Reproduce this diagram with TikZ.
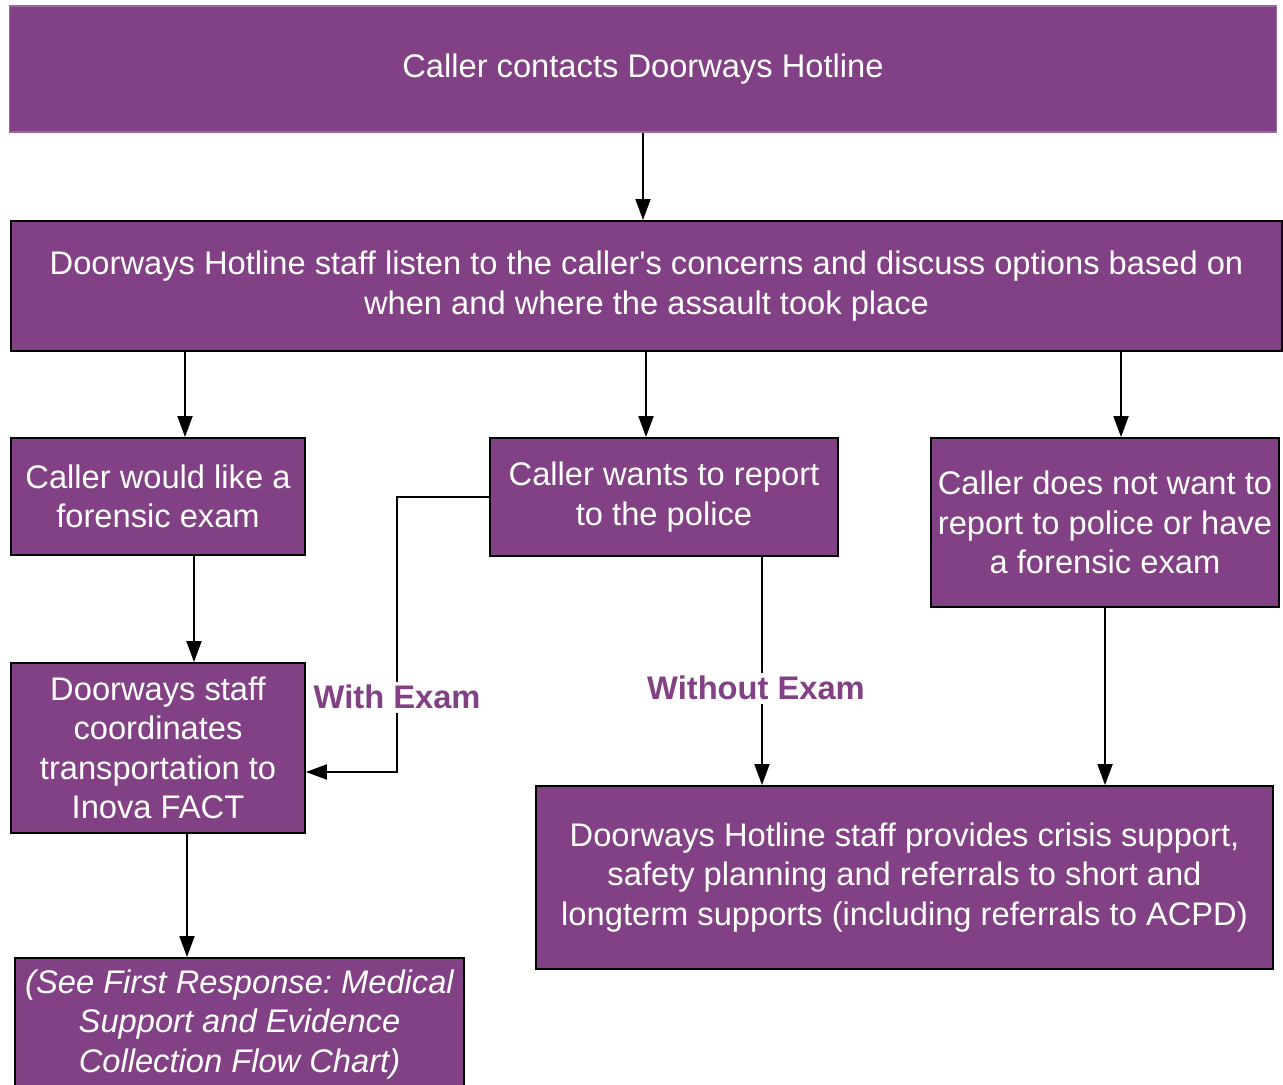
\documentclass[tikz,border=0pt]{standalone}
\usepackage{fontspec}
\setmainfont{Liberation Sans}
\usetikzlibrary{positioning,arrows.meta}
\definecolor{doorpurple}{RGB}{131,65,133}
\frenchspacing

\begin{document}
\begin{tikzpicture}[x=0.02cm, y=-0.02cm,
  box/.style={draw=black, line width=1.1pt, fill=doorpurple, text=white, align=center, inner sep=0pt, font=\fontsize{18.6}{22.4}\selectfont},
  arr/.style={-{Triangle[length=0.42cm, width=0.3cm]}, line width=1.1pt},
  lbl/.style={fill=white, text=doorpurple, inner sep=2pt, font=\fontsize{18.6}{22.4}\selectfont\bfseries}]

\useasboundingbox (0,0) rectangle (1283,1084);

% Caller contacts
\node[box, draw=doorpurple!80!white, line width=0.6pt, minimum width=25.36cm, minimum height=2.52cm] (contact) at (643,69) {Caller contacts Doorways Hotline};

% Hotline staff listen
\node[box, minimum width=25.42cm, minimum height=2.6cm] (listen) at (646.5,286) {Doorways Hotline staff listen to the caller\textquotesingle s concerns and discuss options based on\\when and where the assault took place};

% Three options
\node[box, minimum width=5.88cm, minimum height=2.34cm] (forensic) at (158,496.5) {Caller would like a\\forensic exam};
\node[box, minimum width=6.96cm, minimum height=2.36cm] (police) at (664,497) {Caller wants to report\\to the police};
\node[box, minimum width=6.96cm, minimum height=3.38cm] (noreport) at (1105,522.5) {Caller does not want to\\report to police or have\\a forensic exam};

% Transportation
\node[box, minimum width=5.88cm, minimum height=3.4cm] (transport) at (158,748) {Doorways staff\\coordinates\\transportation to\\Inova FACT};

% Crisis support
\node[box, minimum width=14.74cm, minimum height=3.66cm] (support) at (904.5,877.5) {Doorways Hotline staff provides crisis support,\\safety planning and referrals to short and\\longterm supports (including referrals to ACPD)};

% See First Response
\node[box, minimum width=8.98cm, minimum height=2.66cm] (firstresp) at (239.5,1024.5) {\itshape (See First Response: Medical\\\itshape Support and Evidence\\\itshape Collection Flow Chart)};

% Arrows
\draw[arr] (contact.south) -- (contact.south |- listen.north);
\draw[arr] ([xshift=0.54cm]forensic.north |- listen.south) -- ([xshift=0.54cm]forensic.north);
\draw[arr] ([xshift=-0.36cm]police.north |- listen.south) -- ([xshift=-0.36cm]police.north);
\draw[arr] ([xshift=0.32cm]noreport.north |- listen.south) -- ([xshift=0.32cm]noreport.north);
\draw[arr] ([xshift=0.72cm]forensic.south) -- ([xshift=0.72cm]forensic.south |- transport.north);
\draw[arr] ([xshift=0.58cm]transport.south) -- ([xshift=0.58cm]transport.south |- firstresp.north);
\draw[arr] (noreport.south) -- (noreport.south |- support.north);

% Labelled branches
\draw[arr] ([xshift=1.96cm]police.south) -- node[lbl, pos=0.575, xshift=-0.12cm] {Without Exam} ([xshift=1.96cm]police.south |- support.north);
\draw[arr] (police.west) -- ++(-1.84cm,0) |- node[lbl, pos=0.364] {With Exam} ([yshift=-0.48cm]transport.east);

\end{tikzpicture}
\end{document}
